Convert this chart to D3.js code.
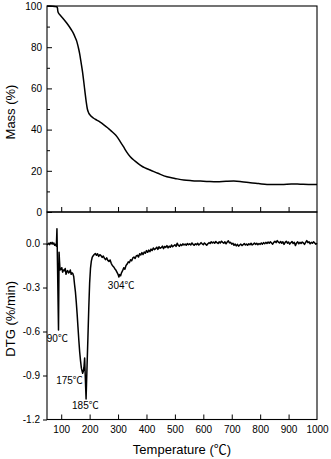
<!DOCTYPE html>
<html>
<head>
<meta charset="utf-8">
<script src="https://cdn.jsdelivr.net/npm/d3@7"></script>
<style>
  html, body { margin: 0; padding: 0; background: #fff; }
  svg text { font-family: "Liberation Sans", Arial, sans-serif; fill: #000; }
  svg tspan.unit { font-family: "Noto Sans CJK SC", "Liberation Sans", sans-serif; }
</style>
</head>
<body>
<svg id="chart" width="331" height="459"></svg>
<script>
// Thermogravimetric curve: residual mass (%) vs temperature (°C)
const massTemp = [50, 60, 70, 80, 85, 87, 88, 90, 96, 105, 120, 135, 143, 150, 155, 160, 165, 170, 175, 180,
  184, 188, 192, 197, 202, 208, 214, 225, 237, 250, 262, 272, 285, 296, 307, 319, 330, 343, 360, 378,
  395, 413, 440, 472, 500, 531, 560, 590, 620, 648, 680, 707, 735, 765, 795, 824, 855, 883, 910, 941, 970, 1000];
const massValue = [100, 100, 99.9, 99.7, 99.6, 98.8, 97.6, 96.7, 95.6, 94.2, 91.6, 88.6, 86.7, 84.5, 82.7, 80, 76.8, 72.5, 68, 62.5,
  57.8, 53.5, 50, 48, 47, 46.2, 45.5, 44.6, 43.6, 42.3, 41, 39.8, 38.2, 36.6, 34.3, 31.7, 29.2, 26.8, 24.7, 22.8,
  21.4, 20.4, 18.8, 17.1, 16.3, 15.5, 15.2, 15.0, 14.8, 14.7, 14.9, 15.0, 14.7, 14.2, 13.8, 13.4, 13.3, 13.4, 13.6, 13.5, 13.4, 13.4];

// Derivative curve: DTG (%/min) vs temperature (°C)
const dtgTemp = [50, 53, 56, 59, 62, 65, 68, 71, 74, 77, 80, 83, 85, 87, 90.5, 92.5, 94, 96, 99, 102,
  105, 108, 111, 114, 117, 120, 123, 126, 129, 132, 135, 138, 141, 144, 147, 150, 153, 156, 159, 162,
  165, 168, 171, 173.5, 175.5, 178, 180, 182.5, 184, 186, 187.5, 189, 191, 194, 197, 200, 203, 206, 209, 212,
  216, 220, 224, 228, 232, 236, 240, 244, 248, 252, 256, 260, 264, 268, 272, 276, 280, 284, 288, 292,
  296, 300, 303, 306, 309, 312, 316, 320, 324, 328, 332, 336, 340, 344, 348, 352, 356, 360, 364, 368,
  372, 376, 380, 384, 388, 392, 396, 400, 404, 408, 412, 416, 420, 424, 428, 432, 436, 440, 444, 448,
  452, 456, 460, 464, 468, 472, 476, 480, 484, 488, 492, 496, 500, 504, 508, 512, 516, 520, 524, 528,
  532, 536, 540, 544, 548, 552, 556, 560, 564, 568, 572, 576, 580, 584, 588, 592, 596, 600, 604, 608,
  612, 616, 620, 624, 628, 632, 636, 640, 644, 648, 652, 656, 660, 664, 668, 672, 676, 680, 684, 688,
  692, 696, 700, 704, 708, 712, 716, 720, 724, 728, 732, 736, 740, 744, 748, 752, 756, 760, 764, 768,
  772, 776, 780, 784, 788, 792, 796, 800, 804, 808, 812, 816, 820, 824, 828, 832, 836, 840, 844, 848,
  852, 856, 860, 864, 868, 872, 876, 880, 884, 888, 892, 896, 900, 904, 908, 912, 916, 920, 924, 928,
  932, 936, 940, 944, 948, 952, 956, 960, 964, 968, 972, 976, 980, 984, 988, 992, 996, 1000];
const dtgValue = [-0.010, -0.004, 0.002, -0.008, 0.006, -0.002, 0.008, -0.004, 0.004, -0.012, -0.006, -0.018, 0.100, -0.150, -0.590, -0.060, -0.120, -0.180, -0.175, -0.165,
  -0.195, -0.180, -0.185, -0.170, -0.210, -0.190, -0.185, -0.200, -0.195, -0.180, -0.210, -0.200, -0.205, -0.225, -0.280, -0.330, -0.400, -0.480, -0.570, -0.660,
  -0.740, -0.800, -0.850, -0.870, -0.885, -0.870, -0.845, -0.780, -0.870, -0.980, -1.060, -0.960, -0.830, -0.640, -0.440, -0.270, -0.170, -0.120, -0.095, -0.085,
  -0.075, -0.068, -0.080, -0.070, -0.088, -0.076, -0.082, -0.095, -0.085, -0.100, -0.110, -0.098, -0.115, -0.122, -0.112, -0.135, -0.150, -0.158, -0.170, -0.180,
  -0.195, -0.210, -0.228, -0.212, -0.220, -0.200, -0.185, -0.165, -0.175, -0.150, -0.140, -0.125, -0.130, -0.110, -0.118, -0.098, -0.092, -0.102, -0.085, -0.080,
  -0.092, -0.070, -0.078, -0.062, -0.075, -0.058, -0.066, -0.048, -0.060, -0.045, -0.055, -0.038, -0.048, -0.030, -0.042, -0.035, -0.025, -0.040, -0.022, -0.032,
  -0.028, -0.018, -0.035, -0.020, -0.026, -0.014, -0.030, -0.018, -0.025, -0.010, -0.022, -0.015, -0.008, -0.020, 0.002, -0.012, -0.018, -0.006, -0.014, -0.002,
  -0.010, -0.004, -0.012, 0.000, -0.008, -0.002, -0.010, 0.004, -0.006, -0.012, -0.002, -0.008, 0.002, -0.010, -0.004, 0.006, -0.002, -0.008, 0.004, -0.004,
  -0.012, -0.002, 0.006, 0.000, 0.012, 0.004, 0.010, 0.002, 0.014, 0.006, 0.000, 0.012, 0.004, 0.016, 0.008, 0.002, 0.012, -0.002, 0.010, 0.018,
  0.004, 0.008, -0.004, 0.002, -0.012, -0.004, -0.016, -0.006, -0.018, -0.010, -0.004, -0.014, -0.008, 0.000, -0.010, -0.004, -0.012, -0.002, -0.008, 0.002,
  -0.010, -0.004, 0.004, -0.006, 0.002, -0.008, 0.000, -0.006, 0.004, -0.004, 0.006, -0.002, 0.008, 0.000, 0.010, 0.002, 0.012, 0.004, -0.004, 0.008,
  0.016, 0.006, 0.020, 0.010, 0.004, 0.014, 0.002, 0.012, -0.006, 0.008, 0.016, 0.002, 0.010, -0.004, 0.006, 0.014, 0.000, 0.008, -0.014, 0.004,
  0.012, -0.002, 0.008, 0.000, 0.010, 0.004, -0.006, 0.008, 0.020, 0.006, 0.012, -0.002, 0.008, 0.002, 0.012, 0.004, -0.004, 0.002];

// Peak annotations on the DTG curve
const peakTemp = [90, 175, 185, 304];
const peakLabel = ["90", "175", "185", "304"];
const unitLabel = "℃";

// Axis ticks
const xTicks = [100, 200, 300, 400, 500, 600, 700, 800, 900, 1000];
const massTicks = [0, 20, 40, 60, 80, 100];
const massMinorTicks = [10, 30, 50, 70, 90];
const dtgTicks = [0.0, -0.3, -0.6, -0.9, -1.2];

const svg = d3.select("#chart");
const plotLeft = 47, plotRight = 317, plotTop = 6, plotMid = 212, plotBottom = 419.5;

const x = d3.scaleLinear().domain([50, 1000]).range([plotLeft, plotRight]);
const yMass = d3.scaleLinear().domain([0, 100]).range([plotMid, plotTop]);
const yDtg = d3.scaleLinear().domain([-1.2, 0.215]).range([plotBottom, plotMid]);

const tickFont = "10px";

// ---- Top panel: mass ----
const gMassY = svg.append("g").attr("transform", `translate(${plotLeft},0)`)
  .call(d3.axisLeft(yMass).tickValues(massTicks).tickSizeInner(-5).tickSizeOuter(0).tickPadding(5).tickFormat(d3.format("d")));
gMassY.select(".domain").remove();
gMassY.selectAll("text").style("font-size", tickFont);

const gMassMinor = svg.append("g").attr("transform", `translate(${plotLeft},0)`)
  .call(d3.axisLeft(yMass).tickValues(massMinorTicks).tickSizeInner(-3).tickSizeOuter(0).tickFormat(""));
gMassMinor.select(".domain").remove();

const gMassX = svg.append("g").attr("transform", `translate(0,${plotMid})`)
  .call(d3.axisBottom(x).tickValues(xTicks.slice(0, -1)).tickSizeInner(-5).tickSizeOuter(0).tickFormat(""));
gMassX.select(".domain").remove();

// ---- Bottom panel: DTG ----
const gDtgY = svg.append("g").attr("transform", `translate(${plotLeft},0)`)
  .call(d3.axisLeft(yDtg).tickValues(dtgTicks).tickSizeInner(4).tickSizeOuter(0).tickPadding(3).tickFormat(d3.format(".1f")));
gDtgY.select(".domain").remove();
gDtgY.selectAll("text").style("font-size", tickFont).text(d => d3.format(".1f")(d).replace("−", "-"));

const gDtgX = svg.append("g").attr("transform", `translate(0,${plotBottom})`)
  .call(d3.axisBottom(x).tickValues(xTicks).tickSizeInner(-5).tickSizeOuter(0).tickPadding(6).tickFormat(d3.format("d")));
gDtgX.select(".domain").remove();
gDtgX.selectAll("line").filter(d => d === 1000).remove();
gDtgX.selectAll("text").style("font-size", tickFont);

svg.selectAll(".tick line").attr("stroke", "#000").attr("stroke-width", 1);

// Panel frames
svg.append("rect").attr("x", plotLeft).attr("y", plotTop).attr("width", plotRight - plotLeft).attr("height", plotMid - plotTop)
  .attr("fill", "none").attr("stroke", "#000").attr("stroke-width", 1.1);
svg.append("rect").attr("x", plotLeft).attr("y", plotMid).attr("width", plotRight - plotLeft).attr("height", plotBottom - plotMid)
  .attr("fill", "none").attr("stroke", "#000").attr("stroke-width", 1.1);

// Curves
const massLine = d3.line().x((d, i) => x(massTemp[i])).y(d => yMass(d)).curve(d3.curveMonotoneX);
svg.append("path").datum(massValue).attr("d", massLine)
  .attr("fill", "none").attr("stroke", "#000").attr("stroke-width", 1.5).attr("stroke-linejoin", "round");

const dtgLine = d3.line().x((d, i) => x(dtgTemp[i])).y(d => yDtg(d));
svg.append("path").datum(dtgValue).attr("d", dtgLine)
  .attr("fill", "none").attr("stroke", "#000").attr("stroke-width", 1.5).attr("stroke-linejoin", "round");

// Peak labels, placed below each peak's minimum
const peakOffset = [
  { dx: -1, dy: 12 },   // 90
  { dx: -13, dy: 11 },  // 175
  { dx: 0, dy: 10 },    // 185
  { dx: 2, dy: 12 }     // 304
];
peakTemp.forEach((t, i) => {
  let best = 0;
  dtgTemp.forEach((tt, j) => {
    if (Math.abs(tt - t) < Math.abs(dtgTemp[best] - t)) best = j;
  });
  let vmin = dtgValue[best];
  for (let j = Math.max(0, best - 2); j <= Math.min(dtgValue.length - 1, best + 2); j++) vmin = Math.min(vmin, dtgValue[j]);
  const label = svg.append("text")
    .attr("x", x(t) + peakOffset[i].dx)
    .attr("y", yDtg(vmin) + peakOffset[i].dy)
    .attr("text-anchor", "middle")
    .style("font-size", "10px");
  label.append("tspan").text(peakLabel[i]);
  label.append("tspan").attr("class", "unit").text(unitLabel);
});

// Axis titles
svg.append("text").attr("transform", `translate(14.5,${(plotTop + plotMid) / 2 + 3}) rotate(-90)`)
  .attr("text-anchor", "middle").style("font-size", "13px").text("Mass (%)");
svg.append("text").attr("transform", `translate(14.5,${(plotMid + plotBottom) / 2 + 3}) rotate(-90)`)
  .attr("text-anchor", "middle").style("font-size", "13px").text("DTG (%/min)");
const xTitle = svg.append("text").attr("x", (plotLeft + plotRight) / 2).attr("y", 453.5)
  .attr("text-anchor", "middle").style("font-size", "13px");
xTitle.append("tspan").text("Temperature (");
xTitle.append("tspan").attr("class", "unit").text(unitLabel);
xTitle.append("tspan").text(")");
</script>
</body>
</html>
